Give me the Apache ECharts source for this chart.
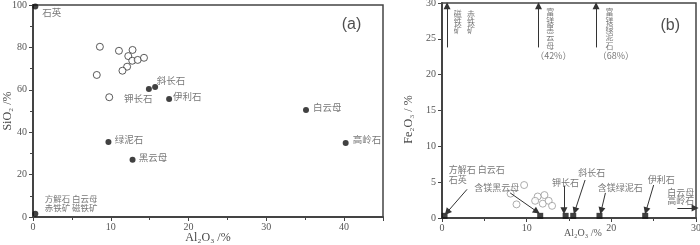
<!DOCTYPE html>
<html>
<head>
<meta charset="utf-8">
<script src="https://cdn.jsdelivr.net/npm/echarts@6/dist/echarts.min.js"></script>
<style>
html,body{margin:0;padding:0;background:#fff}
#main{width:700px;height:245px}
</style>
</head>
<body>
<div id="main"></div>
<script>
// (a) SiO2 - Al2O3 图
var mineralA = [[0.3,99.3],[15.7,61.3],[14.9,60.4],[17.5,55.7],[35.1,50.5],[40.2,34.9],[9.7,35.4],[12.8,27.0],[0.3,1.5]];
var sampleA = [[8.6,80.3],[11.05,78.4],[12.8,78.8],[12.25,75.9],[12.76,73.7],[13.46,74.1],[14.27,75.1],[12.1,70.9],[11.5,69.0],[8.2,67.0],[9.8,56.5]];
// 标注文字 [x, y, 文字]
var labelA = [
	[1.2,96.7,'石英'],[15.9,64.6,'斜长石'],[11.7,56.1,'钾长石'],[18.0,57.1,'伊利石'],
	[36.0,51.9,'白云母'],[41.1,36.8,'高岭石'],[10.5,36.8,'绿泥石'],[13.6,28.3,'黑云母']
];
var labelA2 = [[1.5,8.5,'方解石 白云母'],[1.5,4.2,'赤铁矿 磁铁矿']];

// (b) Fe2O3 - Al2O3 图
var mineralB = [[0.3,0.3],[11.6,0.3],[14.6,0.3],[15.5,0.3],[18.6,0.3],[24.0,0.3]];
var sampleB = [[9.7,4.6],[8.1,3.4],[8.8,1.9],[11.3,3.0],[12.1,3.2],[11.0,2.4],[11.9,2.0],[12.6,2.4],[13.0,1.7]];
var labelB = [
	[0.8,6.8,'方解石 白云石'],[0.8,5.3,'石英'],[3.8,4.2,'含镁黑云母'],[13.0,5.0,'钾长石'],
	[16.1,6.4,'斜长石'],[18.4,4.3,'含镁绿泥石'],[24.3,5.4,'伊利石'],[26.6,3.6,'白云母'],[26.6,2.4,'高岭石'],
	[11.0,22.6,'（42%）'],[18.4,22.6,'（68%）']
];
// 竖排文字 [x, y(顶部), 文字]
var vlabelB = [[1.4,29.1,'磁铁矿'],[2.95,29.1,'赤铁矿'],[12.3,29.3,'富镁黑云母'],[19.3,29.3,'富镁绿泥石']];
// 箭头 [x1,y1,x2,y2]
var arrowB = [
	[0.6,23.8,0.6,29.6],[11.4,23.8,11.4,29.6],[18.2,23.8,18.2,29.6],
	[2.96,4.0,0.6,0.8],[8.05,3.5,11.2,0.9],[14.4,4.5,14.4,1.0],[16.9,5.3,15.7,1.0],
	[19.3,3.5,18.8,1.0],[25.0,4.6,24.1,1.0],[27.8,1.4,29.9,1.4]
];

var serif = 'Liberation Serif';
var cjk = 'Noto Sans CJK SC';
var axisColor = '#444';

function axisCommon(){
	return {
		axisLine:{show:true,onZero:false,lineStyle:{color:axisColor,width:2}},
		axisTick:{show:true,inside:false,length:4,lineStyle:{color:axisColor,width:1}},
		minorTick:{show:false},
		splitLine:{show:false},
		nameMoveOverlap:false,
		axisLabel:{fontFamily:serif,fontSize:10,color:'#555',margin:5},
		nameTextStyle:{fontFamily:serif,fontSize:12,color:'#444'}
	};
}
function mk(base,extra){
	for(var k in extra){ base[k]=extra[k]; }
	return base;
}

var xa = mk(axisCommon(),{gridIndex:0,type:'value',min:0,max:45,interval:10,name:'Al₂O₃ /%',nameLocation:'middle',nameGap:15,
	minorTick:{show:true,splitNumber:2,length:3,lineStyle:{color:axisColor}}});
xa.axisLabel = {fontFamily:serif,fontSize:10,color:'#555',margin:5,showMaxLabel:false};
var ya = mk(axisCommon(),{gridIndex:0,type:'value',min:0,max:100,interval:20,name:'SiO₂ /%',nameLocation:'middle',nameGap:19,
	minorTick:{show:true,splitNumber:2,length:3,lineStyle:{color:axisColor}}});
ya.axisLabel = {fontFamily:serif,fontSize:10,color:'#555',margin:6};
var xb = mk(axisCommon(),{gridIndex:1,type:'value',min:0,max:30,interval:10,name:'Al₂O₃ /%',nameLocation:'middle',nameGap:10,
	minorTick:{show:true,splitNumber:2,length:3,lineStyle:{color:axisColor}}});
xb.nameTextStyle = {fontFamily:serif,fontSize:10,color:'#555',padding:[0,0,0,28]};
var yb = mk(axisCommon(),{gridIndex:1,type:'value',min:0,max:30,interval:5,name:'Fe₂O₃ / %',nameLocation:'middle',nameGap:27});
yb.axisLabel = {fontFamily:serif,fontSize:10,color:'#555',margin:6};
yb.nameTextStyle = {fontFamily:serif,fontSize:12,color:'#444',padding:[0,18,0,0]};

function textSeries(xi,data,size){
	return {
		type:'scatter',xAxisIndex:xi,yAxisIndex:xi,symbolSize:0,silent:true,z:5,
		data:data.map(function(d){return {value:[d[0],d[1]],name:d[2]};}),
		label:{show:true,position:[0,0],align:'left',verticalAlign:'middle',
			formatter:function(p){return p.name;},fontFamily:cjk,fontSize:size,color:'#555'}
	};
}

var option = {
	animation:false,
	backgroundColor:'#fff',
	grid:[
		{left:33,right:317,top:5,bottom:28,show:true,borderColor:axisColor,borderWidth:1.5,backgroundColor:'transparent',outerBoundsMode:'none'},
		{left:442,right:4,top:3,bottom:27,show:true,borderColor:axisColor,borderWidth:1.5,backgroundColor:'transparent',outerBoundsMode:'none'}
	],
	xAxis:[xa,xb],
	yAxis:[ya,yb],
	series:[
		{type:'scatter',xAxisIndex:0,yAxisIndex:0,data:sampleA,symbol:'circle',symbolSize:7,
			itemStyle:{color:'#fff',borderColor:'#333',borderWidth:1}},
		{type:'scatter',xAxisIndex:0,yAxisIndex:0,data:mineralA,symbol:'circle',symbolSize:6,z:3,
			itemStyle:{color:'#111'}},
		textSeries(0,labelA,9.5),
		textSeries(0,labelA2,8.5),
		{type:'scatter',xAxisIndex:0,yAxisIndex:0,symbolSize:0,silent:true,data:[{value:[39.7,90.6],name:'(a)'}],
			label:{show:true,position:[0,0],align:'left',verticalAlign:'middle',formatter:'{b}',fontFamily:'Liberation Sans',fontSize:16,color:'#222'}},

		{type:'scatter',xAxisIndex:1,yAxisIndex:1,data:sampleB,symbol:'circle',symbolSize:7,
			itemStyle:{color:'#fff',borderColor:'#999',borderWidth:1}},
		{type:'scatter',xAxisIndex:1,yAxisIndex:1,data:mineralB,symbol:'rect',symbolSize:6,z:4,
			itemStyle:{color:'#111'}},
		textSeries(1,labelB,9),
		{type:'scatter',xAxisIndex:1,yAxisIndex:1,symbolSize:0,silent:true,z:5,
			data:vlabelB.map(function(d){return {value:[d[0],d[1]],name:d[2].split('').join('\n')};}),
			label:{show:true,position:[0,0],align:'left',verticalAlign:'top',lineHeight:8.4,
				formatter:'{b}',fontFamily:cjk,fontSize:8,color:'#555'}},
		{type:'scatter',xAxisIndex:1,yAxisIndex:1,symbolSize:0,silent:true,data:[{value:[25.8,26.9],name:'(b)'}],
			label:{show:true,position:[0,0],align:'left',verticalAlign:'middle',formatter:'{b}',fontFamily:'Liberation Sans',fontSize:16,color:'#222'}},
		{type:'scatter',xAxisIndex:1,yAxisIndex:1,data:[],silent:true,
			markLine:{silent:true,symbol:['none','triangle'],symbolSize:7,label:{show:false},
				lineStyle:{color:'#333',width:1,type:'solid'},emphasis:{disabled:true},
				data:arrowB.map(function(a){return [{coord:[a[0],a[1]]},{coord:[a[2],a[3]]}];})}}
	]
};

var chart = echarts.init(document.getElementById('main'));
chart.setOption(option);
</script>
</body>
</html>
